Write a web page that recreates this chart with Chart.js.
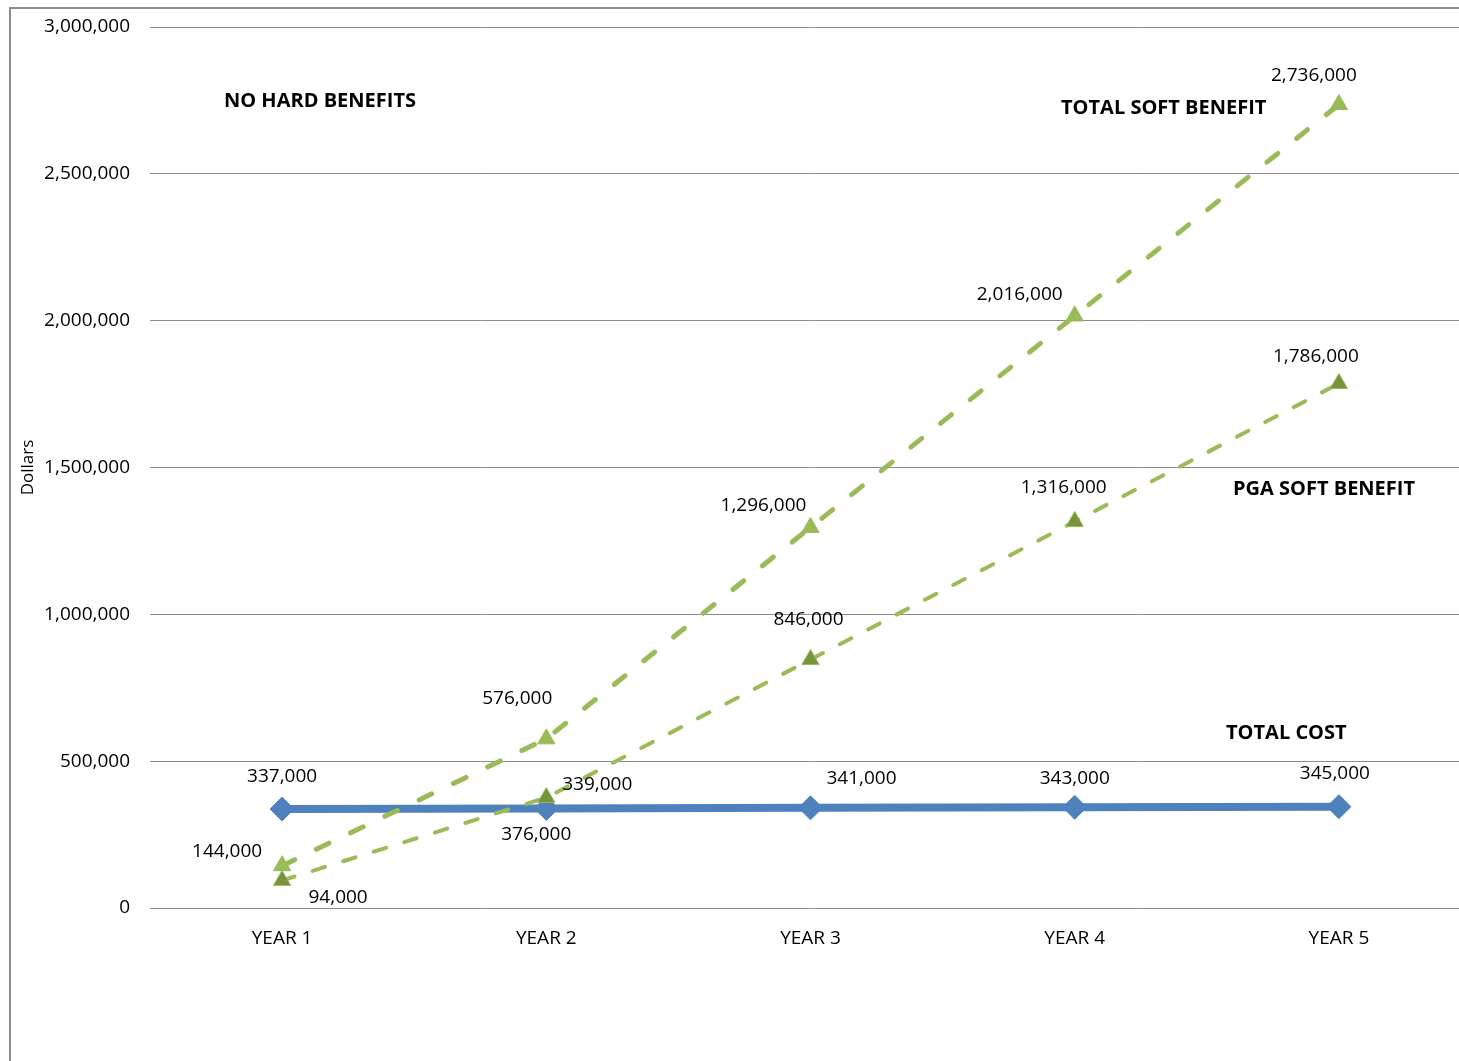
<!DOCTYPE html>
<html>
<head>
<meta charset="utf-8">
<script src="https://cdn.jsdelivr.net/npm/chart.js@4.4.1/dist/chart.umd.min.js"></script>
<style>
  html, body { margin: 0; padding: 0; background: #fff; overflow: hidden; }
  #wrap { position: absolute; left: 0; top: 0; width: 1480px; height: 1061px; }
  canvas { display: block; width: 1472px; height: 1061px; }
</style>
</head>
<body>
<div id="wrap"><canvas id="costChart" width="1472" height="1061"></canvas></div>
<script>
const years = ['YEAR 1', 'YEAR 2', 'YEAR 3', 'YEAR 4', 'YEAR 5'];
const totalCost = [337000, 339000, 341000, 343000, 345000];
const totalSoftBenefit = [144000, 576000, 1296000, 2016000, 2736000];
const pgaSoftBenefit = [94000, 376000, 846000, 1316000, 1786000];
const yTicks = [0, 500000, 1000000, 1500000, 2000000, 2500000, 3000000];

// where each value label sits relative to its point (px)
const costLabelOffsets = [[0, -32], [51, -24], [51, -29], [0, -29], [-4, -33]];
const totalLabelOffsets = [[-55, -14], [-29, -40], [-47, -22], [-55, -21], [-25, -29]];
const pgaLabelOffsets = [[56, 17], [-10, 37], [-2, -40], [-11, -34], [-23, -27]];

const seriesNotes = [
    { text: 'NO HARD BENEFITS', x: 224, y: 101 },
    { text: 'TOTAL SOFT BENEFIT', x: 1061, y: 108 },
    { text: 'PGA SOFT BENEFIT', x: 1233, y: 489 },
    { text: 'TOTAL COST', x: 1226, y: 733 }
];

const fmt = v => v.toLocaleString('en-US');
const FONT = '"Open Sans", sans-serif';

// outer frame + value labels + series notes
const decorPlugin = {
    id: 'decor',
    beforeDraw(chart) {
        const ctx = chart.ctx;
        ctx.save();
        ctx.strokeStyle = '#8e8e8e';
        ctx.lineWidth = 2;
        ctx.beginPath();
        ctx.moveTo(10, 1100);
        ctx.lineTo(10, 8);
        ctx.lineTo(chart.width + 10, 8);
        ctx.stroke();
        ctx.restore();
    },
    afterDatasetsDraw(chart) {
        const ctx = chart.ctx;
        ctx.save();
        ctx.font = '19px ' + FONT;
        ctx.fillStyle = '#000';
        ctx.textAlign = 'center';
        ctx.textBaseline = 'middle';
        chart.data.datasets.forEach((ds, i) => {
            const meta = chart.getDatasetMeta(i);
            meta.data.forEach((pt, j) => {
                const off = ds.labelOffsets[j];
                ctx.fillText(fmt(ds.data[j]), pt.x + off[0], pt.y + off[1]);
            });
        });
        ctx.font = 'bold 20px ' + FONT;
        ctx.textAlign = 'left';
        seriesNotes.forEach(n => ctx.fillText(n.text, n.x, n.y));
        ctx.restore();
    }
};

const chart = new Chart(document.getElementById('costChart'), {
    type: 'line',
    data: {
        labels: years,
        datasets: [
            {
                label: 'TOTAL SOFT BENEFIT',
                data: totalSoftBenefit,
                labelOffsets: totalLabelOffsets,
                borderColor: '#9bbb59',
                borderWidth: 5,
                borderDash: [14, 24],
                borderCapStyle: 'round',
                pointStyle: 'triangle',
                pointRadius: 10,
                pointBackgroundColor: '#9bbb59',
                pointBorderColor: '#9bbb59',
                pointBorderWidth: 1,
                tension: 0,
                order: 1
            },
            {
                label: 'PGA SOFT BENEFIT',
                data: pgaSoftBenefit,
                labelOffsets: pgaLabelOffsets,
                borderColor: '#9bbb59',
                borderWidth: 4,
                borderDash: [13, 19],
                borderCapStyle: 'round',
                pointStyle: 'triangle',
                pointRadius: 10,
                pointBackgroundColor: '#77933c',
                pointBorderColor: '#9bbb59',
                pointBorderWidth: 1,
                tension: 0,
                order: 2
            },
            {
                label: 'TOTAL COST',
                data: totalCost,
                labelOffsets: costLabelOffsets,
                borderColor: '#4f81bd',
                borderWidth: 8,
                pointStyle: 'rectRot',
                pointRadius: 12,
                pointBackgroundColor: '#4f81bd',
                pointBorderColor: '#4f81bd',
                pointBorderWidth: 1,
                tension: 0,
                order: 3
            }
        ]
    },
    options: {
        responsive: false,
        animation: false,
        layout: {
            autoPadding: false,
            padding: { top: 27, left: 0, right: 1, bottom: 0 }
        },
        scales: {
            x: {
                offset: true,
                grid: { display: false },
                border: { display: false },
                ticks: {
                    color: '#000',
                    font: { family: FONT, size: 19 },
                    padding: 11
                },
                afterFit(scale) {
                    scale.height = 153;
                    scale.paddingLeft = 0;
                    scale.paddingRight = 0;
                }
            },
            y: {
                min: 0,
                max: 3000000,
                afterBuildTicks(scale) { scale.ticks = yTicks.map(v => ({ value: v })); },
                grid: { color: '#8c8c8c', lineWidth: 1, drawTicks: false },
                border: { display: false },
                title: {
                    display: true,
                    text: 'Dollars',
                    color: '#000',
                    font: { family: FONT, size: 17 },
                    padding: { top: 18, bottom: 0 }
                },
                ticks: {
                    color: '#000',
                    font: { family: FONT, size: 19 },
                    padding: 20,
                    callback: v => fmt(v)
                },
                afterFit(scale) {
                    scale.width = 150;
                    scale.paddingTop = 0;
                    scale.paddingBottom = 0;
                }
            }
        },
        plugins: {
            legend: { display: false },
            tooltip: { enabled: false }
        }
    },
    plugins: [decorPlugin]
});
</script>
</body>
</html>
